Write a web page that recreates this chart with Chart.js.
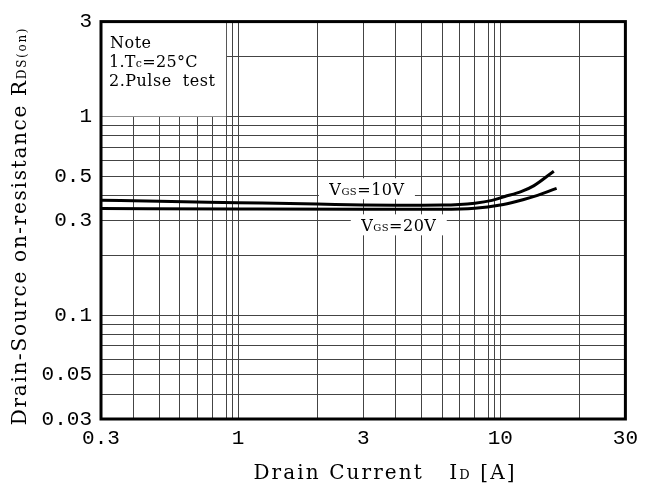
<!DOCTYPE html>
<html>
<head>
<meta charset="utf-8">
<script src="https://cdn.jsdelivr.net/npm/chart.js@4/dist/chart.umd.min.js"></script>
<style>
  html, body { margin: 0; padding: 0; background: #fff; }
  #wrap { width: 645px; height: 486px; }
</style>
</head>
<body>
<div id="wrap"><canvas id="myChart" width="645" height="486"></canvas></div>
<script>
// Data (Id in A, Rds(on) in ohm)
const idVgs10  = [0.3, 0.5, 1, 2, 3, 4, 6, 8, 9.3, 10.4, 12, 13.4, 16];
const rdsVgs10 = [0.379, 0.374, 0.368, 0.362, 0.358, 0.357, 0.358, 0.366, 0.378, 0.395, 0.418, 0.447, 0.53];
const idVgs20  = [0.3, 1, 3, 6, 8, 10, 11.5, 13, 16.4];
const rdsVgs20 = [0.344, 0.342, 0.341, 0.341, 0.345, 0.358, 0.373, 0.39, 0.434];

// Grid lines and labelled ticks
const xGridValues  = [0.3, 0.4, 0.5, 0.6, 0.7, 0.8, 0.9, 0.95, 1, 2, 3, 4, 5, 6, 7, 8, 9, 9.5, 10, 20, 30];
const xLabelValues = [0.3, 1, 3, 10, 30];
const yGridValues  = [0.03, 0.04, 0.05, 0.06, 0.07, 0.08, 0.09, 0.1, 0.2, 0.3, 0.4, 0.5, 0.6, 0.7, 0.8, 0.9, 1, 2, 3];
const yLabelValues = [0.03, 0.05, 0.1, 0.3, 0.5, 1, 3];

const SERIF = '"DejaVu Serif", "Liberation Serif", serif';
const MONO = '"Liberation Mono", "DejaVu Sans Mono", monospace';

function toPoints(xs, ys) {
    return xs.map((x, i) => ({ x: x, y: ys[i] }));
}

// draw text made of pieces [text, size] on a common baseline
function drawParts(ctx, parts, x, y, align, spacing) {
    ctx.save();
    ctx.textAlign = 'left';
    ctx.textBaseline = 'alphabetic';
    let widths = parts.map(p => {
        ctx.font = p[1] + 'px ' + SERIF;
        ctx.letterSpacing = spacing || '0px';
        return ctx.measureText(p[0]).width;
    });
    let total = widths.reduce((a, b) => a + b, 0);
    let cx = align === 'center' ? x - total / 2 : x;
    parts.forEach((p, i) => {
        ctx.font = p[1] + 'px ' + SERIF;
        ctx.letterSpacing = spacing || '0px';
        ctx.fillText(p[0], cx, y);
        cx += widths[i];
    });
    ctx.restore();
    return total;
}

const decorations = {
    id: 'decorations',
    beforeDatasetsDraw(chart) {
        const { ctx, chartArea, scales } = chart;
        // white note box in the upper-left corner
        const right = scales.x.getPixelForValue(0.9);
        const bottom = scales.y.getPixelForValue(1);
        ctx.save();
        ctx.fillStyle = '#fff';
        ctx.fillRect(chartArea.left, chartArea.top, right - chartArea.left, bottom - chartArea.top);
        ctx.fillStyle = '#000';
        drawParts(ctx, [['Note', 16]], chartArea.left + 9, chartArea.top + 26, 'left', '0.5px');
        drawParts(ctx, [['1.T', 16], ['c', 11], ['=25°C', 16]], chartArea.left + 8, chartArea.top + 45, 'left', '0.3px');
        drawParts(ctx, [['2.Pulse  test', 16]], chartArea.left + 8, chartArea.top + 64, 'left', '0.5px');
        ctx.restore();
    },
    afterDatasetsDraw(chart) {
        const { ctx, scales } = chart;
        const labels = [
            { x: 3.1, y: 0.43, parts: [['V', 16], ['GS', 10], ['=10V', 16]] },
            { x: 4.1, y: 0.283, parts: [['V', 16], ['GS', 10], ['=20V', 16]] }
        ];
        labels.forEach(l => {
            const px = scales.x.getPixelForValue(l.x);
            const py = scales.y.getPixelForValue(l.y);
            ctx.save();
            ctx.fillStyle = '#fff';
            ctx.fillRect(px - 48, py - 11, 96, 21);
            ctx.fillStyle = '#000';
            drawParts(ctx, l.parts, px, py + 6, 'center', '0.5px');
            ctx.restore();
        });
    },
    afterDraw(chart) {
        const { ctx, chartArea } = chart;
        ctx.save();
        ctx.strokeStyle = '#000';
        ctx.lineWidth = 3;
        ctx.strokeRect(chartArea.left, chartArea.top, chartArea.right - chartArea.left, chartArea.bottom - chartArea.top);
        ctx.fillStyle = '#000';
        // x axis title
        drawParts(ctx, [['Drain Current   I', 20], ['D', 13], [' [A]', 20]], 385, 479, 'center', '2.1px');
        // y axis title (rotated)
        ctx.translate(26, 226);
        ctx.rotate(-Math.PI / 2);
        drawParts(ctx, [['Drain-Source on-resistance R', 20], ['DS(on)', 12]], 0, 0, 'center', '1.7px');
        ctx.restore();
    }
};

function createChart() {
    const ctx = document.getElementById('myChart').getContext('2d');
    new Chart(ctx, {
        type: 'line',
        data: {
            datasets: [{
                label: 'VGS=10V',
                data: toPoints(idVgs10, rdsVgs10),
                borderColor: '#000',
                borderWidth: 3,
                pointRadius: 0,
                cubicInterpolationMode: 'monotone',
                fill: false
            }, {
                label: 'VGS=20V',
                data: toPoints(idVgs20, rdsVgs20),
                borderColor: '#000',
                borderWidth: 3,
                pointRadius: 0,
                cubicInterpolationMode: 'monotone',
                fill: false
            }]
        },
        options: {
            responsive: false,
            animation: false,
            layout: { padding: { left: 0, top: 17, right: 19, bottom: 0 } },
            plugins: {
                legend: { display: false },
                tooltip: { enabled: false }
            },
            scales: {
                x: {
                    type: 'logarithmic',
                    min: 0.3,
                    max: 30,
                    afterBuildTicks: s => { s.ticks = xGridValues.map(v => ({ value: v })); },
                    afterFit: s => { s.height = 67; },
                    grid: { color: '#444', lineWidth: 1, drawTicks: false },
                    border: { display: false },
                    ticks: {
                        autoSkip: false,
                        maxRotation: 0,
                        padding: 7,
                        color: '#000',
                        font: { family: MONO, size: 21 },
                        callback: v => xLabelValues.includes(v) ? String(v) : ''
                    }
                },
                y: {
                    type: 'logarithmic',
                    min: 0.03,
                    max: 3,
                    afterBuildTicks: s => { s.ticks = yGridValues.map(v => ({ value: v })); },
                    afterFit: s => { s.width = 101; },
                    grid: { color: '#444', lineWidth: 1, drawTicks: false },
                    border: { display: false },
                    ticks: {
                        autoSkip: false,
                        padding: 9,
                        color: '#000',
                        font: { family: MONO, size: 21 },
                        callback: v => yLabelValues.includes(v) ? String(v) : ''
                    }
                }
            }
        },
        plugins: [decorations]
    });
}

createChart();
</script>
</body>
</html>
